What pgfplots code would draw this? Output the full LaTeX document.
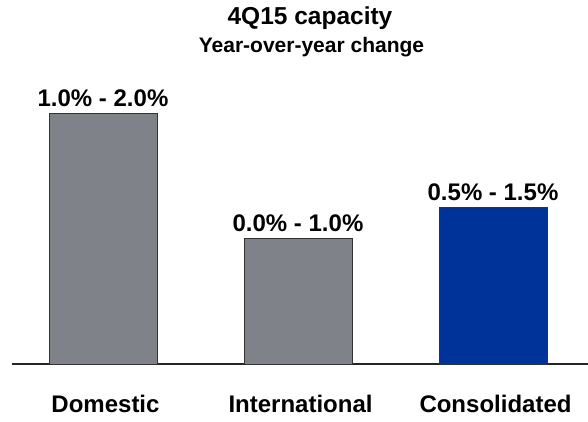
\documentclass[border=0pt]{standalone}
\usepackage{pgfplots}
\pgfplotsset{compat=1.18}
\usepackage{fontspec}
\setmainfont{Liberation Sans}
\definecolor{bargray}{HTML}{7F8389}
\definecolor{barblue}{HTML}{003399}
\definecolor{edgegray}{HTML}{333333}
\begin{document}
\begin{tikzpicture}
\useasboundingbox (0,0) rectangle (588pt,421pt);
\node[anchor=base,font=\bfseries\fontsize{24.5}{28}\selectfont] at (310pt,396pt) {4Q15 capacity};
\node[anchor=base,font=\bfseries\fontsize{21}{25}\selectfont] at (311.5pt,368.5pt) {Year-over-year change};
\begin{axis}[
  at={(12pt,57pt)}, anchor=south west,
  scale only axis, width=576pt, height=313pt,
  xmin=-0.4667, xmax=2.4872, ymin=0, ymax=2.5,
  ybar, bar width=108pt, bar shift=0pt,
  axis x line=bottom, x axis line style={-, line width=1.3pt, color=black!85},
  hide y axis,
  xtick={0,1,2}, xticklabels={Domestic, International, Consolidated},
  xtick style={draw=none},
  xticklabel style={font=\bfseries\fontsize{24}{28}\selectfont, anchor=base, yshift=-46pt, xshift=2.5pt},
  point meta=explicit symbolic,
  nodes near coords,
  every node near coord/.append style={font=\bfseries\fontsize{24}{28}\selectfont, anchor=base, yshift=7.5pt, text=black},
  clip=false,
]
\addplot[fill=bargray, draw=edgegray, line width=0.8pt] coordinates {(0,2.0) [1.0\% - 2.0\%] (1,1.0) [0.0\% - 1.0\%]};
\addplot[fill=barblue, draw=edgegray, line width=0.8pt] coordinates {(2,1.25) [0.5\% - 1.5\%]};
\end{axis}
\end{tikzpicture}
\end{document}
